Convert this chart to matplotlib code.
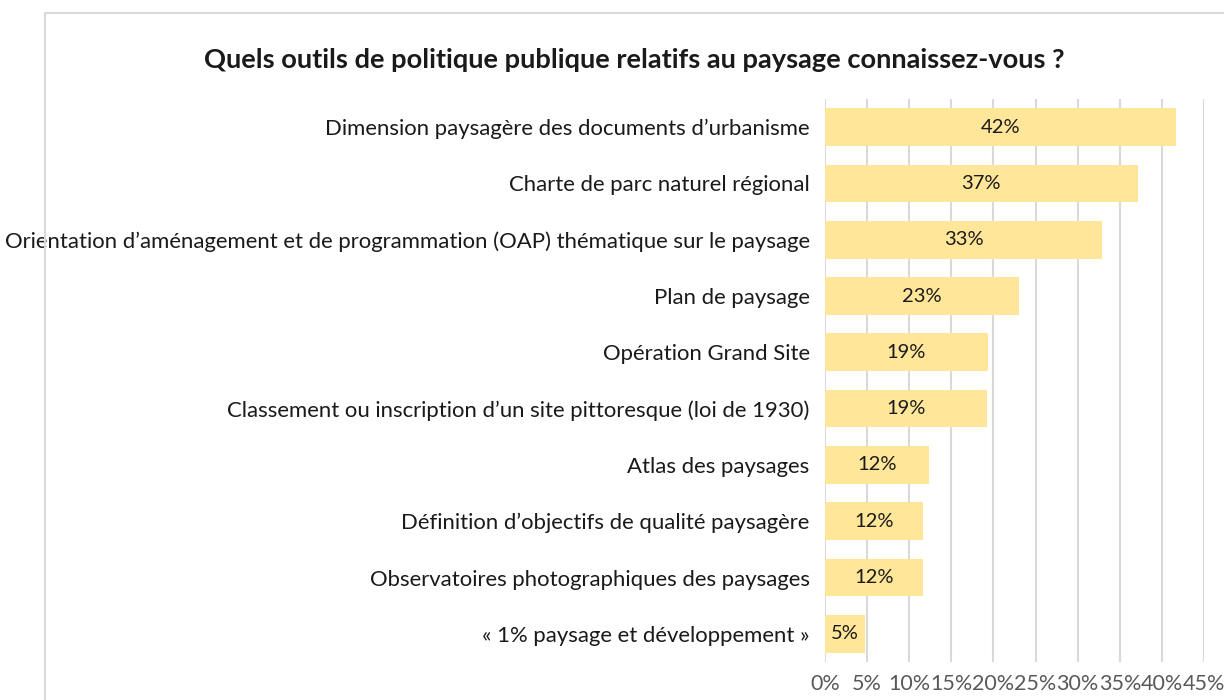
import matplotlib.pyplot as plt
from matplotlib.patches import Rectangle

plt.rcParams['font.family'] = ['Lato', 'DejaVu Sans']

categories = [
    "Dimension paysagère des documents d’urbanisme",
    "Charte de parc naturel régional",
    "Orientation d’aménagement et de programmation (OAP) thématique sur le paysage",
    "Plan de paysage",
    "Opération Grand Site",
    "Classement ou inscription d’un site pittoresque (loi de 1930)",
    "Atlas des paysages",
    "Définition d’objectifs de qualité paysagère",
    "Observatoires photographiques des paysages",
    "« 1% paysage et développement »",
]
values = [41.7, 37.1, 32.9, 23.0, 19.3, 19.2, 12.4, 11.6, 11.6, 4.7]
ticks = [0, 5, 10, 15, 20, 25, 30, 35, 40, 45]

fig = plt.figure(figsize=(12.24, 7.0), dpi=100)
ax = fig.add_axes([0.674, 0.0543, 0.3097, 0.8043])

# chart frame
fig.patches.append(Rectangle((45 / 1224, -0.1), 1.2, 1 - 13 / 700 + 0.1,
                             transform=fig.transFigure, fill=False,
                             edgecolor='#D9D9D9', linewidth=1.5))

pos = list(range(len(categories)))
ax.barh(pos, values, height=0.67, color='#FFE699', zorder=2)
for y, v in zip(pos, values):
    ax.text(v / 2, y, f"{round(v)}%", ha='center', va='center',
            fontsize=14.5, color='#1a1a1a', zorder=3)

ax.set_ylim(len(categories) - 0.5, -0.5)
ax.set_xlim(0, 45)
ax.set_xticks(ticks)
ax.set_xticklabels([f"{t}%" for t in ticks], fontsize=15.5, color='#595959')
ax.set_yticks(pos)
ax.set_yticklabels(categories, fontsize=15.95, color='#1a1a1a')
ax.tick_params(axis='y', length=0, pad=11)
ax.tick_params(axis='x', length=0, pad=9)
ax.grid(axis='x', color='#D9D9D9', linewidth=1.5, zorder=0)
for s in ax.spines.values():
    s.set_visible(False)

fig.text(634 / 1224, 1 - 60 / 700,
         "Quels outils de politique publique relatifs au paysage connaissez-vous ?",
         ha='center', va='center', fontsize=19.6, fontweight='bold', color='#1a1a1a')

fig.savefig('out.png', dpi=100)
